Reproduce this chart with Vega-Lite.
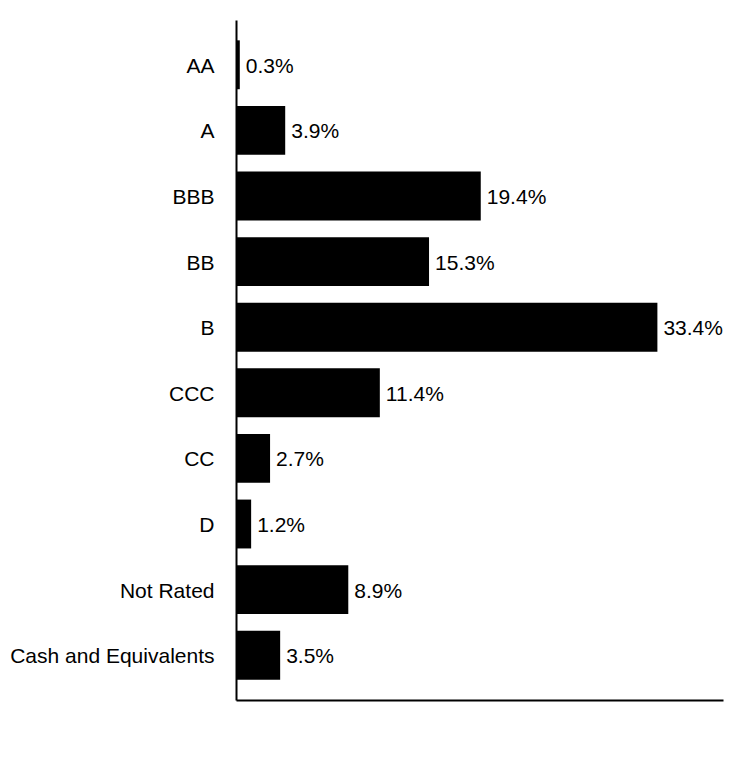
{
  "$schema": "https://vega.github.io/schema/vega-lite/v6.json",
  "autosize": {"type": "none"},
  "padding": {"left": 236, "top": 20, "right": 21, "bottom": 80},
  "width": 487,
  "height": 680,
  "background": "white",
  "config": {
    "view": {"stroke": null},
    "font": "Liberation Sans"
  },
  "data": {
    "values": [
      {"rating": "AA", "pct": 0.003},
      {"rating": "A", "pct": 0.039},
      {"rating": "BBB", "pct": 0.194},
      {"rating": "BB", "pct": 0.153},
      {"rating": "B", "pct": 0.334},
      {"rating": "CCC", "pct": 0.114},
      {"rating": "CC", "pct": 0.027},
      {"rating": "D", "pct": 0.012},
      {"rating": "Not Rated", "pct": 0.089},
      {"rating": "Cash and Equivalents", "pct": 0.035}
    ]
  },
  "encoding": {
    "y": {
      "field": "rating",
      "type": "nominal",
      "sort": null,
      "scale": {"paddingInner": 0.255, "paddingOuter": 0.31},
      "axis": {
        "title": null,
        "ticks": false,
        "labelFontSize": 21,
        "labelColor": "black",
        "labelPadding": 22,
        "labelLimit": 0,
        "labelOffset": 2,
        "labelFont": "Liberation Sans",
        "domainColor": "black",
        "domainWidth": 2,
        "grid": false
      }
    },
    "x": {
      "field": "pct",
      "type": "quantitative",
      "scale": {"domain": [0, 0.386], "nice": false},
      "axis": {
        "title": null,
        "labels": false,
        "ticks": false,
        "grid": false,
        "domainColor": "black",
        "domainWidth": 2
      }
    }
  },
  "layer": [
    {"mark": {"type": "bar", "color": "black"}},
    {
      "mark": {"type": "text", "align": "left", "dx": 6, "dy": 2, "fontSize": 21, "color": "black", "font": "Liberation Sans"},
      "encoding": {"text": {"field": "pct", "type": "quantitative", "format": ".1%"}}
    }
  ]
}
